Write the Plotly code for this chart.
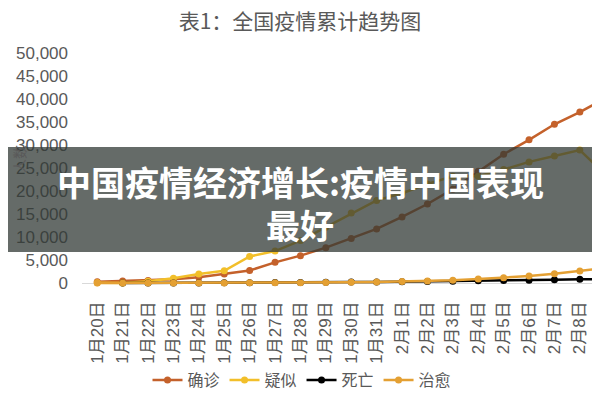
import plotly.graph_objects as go

dates = ["1月20日", "1月21日", "1月22日", "1月23日", "1月24日", "1月25日", "1月26日",
         "1月27日", "1月28日", "1月29日", "1月30日", "1月31日", "2月1日", "2月2日",
         "2月3日", "2月4日", "2月5日", "2月6日", "2月7日", "2月8日", "2月9日"]
confirmed = [291, 440, 571, 830, 1287, 1975, 2744, 4515, 5974, 7711, 9692, 11791,
             14380, 17205, 20438, 24324, 28018, 31161, 34546, 37198, 40171]
suspected = [54, 37, 393, 1072, 1965, 2684, 5794, 6973, 9239, 12167, 15238, 17988,
             19544, 21558, 23214, 23260, 24702, 26359, 27657, 28942, 23589]
deaths = [None, 9, 17, 25, 41, 56, 80, 106, 132, 170, 213, 259,
          304, 361, 425, 490, 563, 636, 722, 811, 908]
cured = [25, 25, 28, 34, 38, 49, 51, 60, 103, 124, 171, 243,
         328, 475, 632, 892, 1153, 1540, 2050, 2649, 3281]
y_ticks = [0, 5000, 10000, 15000, 20000, 25000, 30000, 35000, 40000, 45000, 50000]

series = [
    ("确诊", confirmed, "#C4612B"),
    ("疑似", suspected, "#F2BF2A"),
    ("死亡", deaths, "#000000"),
    ("治愈", cured, "#E4A033"),
]

# page body has an 8px margin: figure coordinates = window coordinates - 8
OFF = 8
W, H = 600, 400
L, T = 82 - OFF, 44 - OFF
PB = 290 - OFF            # plot bottom (figure px)
B = H - PB
R = 0
PW, PH = W - L - R, PB - T
px_per_cat = 25.4
x_right = -0.6 + PW / px_per_cat

font_fam = "Liberation Sans, Noto Sans CJK SC, sans-serif"
cjk = "Noto Sans CJK SC, sans-serif"
fig = go.Figure()
for name, vals, col in series:
    fig.add_trace(go.Scatter(
        x=dates, y=vals, name=name, mode="lines+markers",
        line=dict(color=col, width=2.5),
        marker=dict(color=col, size=7),
    ))

fig.update_layout(
    width=W, height=H,
    margin=dict(l=L, r=R, t=T, b=B),
    paper_bgcolor="white", plot_bgcolor="white",
    font=dict(family=font_fam, color="#595959"),
    title=dict(text="表1：全国疫情累计趋势图", x=(300 - OFF) / W, xref="container", xanchor="center",
               y=1 - (22 - OFF) / H, yref="container", yanchor="middle",
               font=dict(size=21, color="#595959", family=cjk)),
    showlegend=True,
    legend=dict(orientation="h", xref="container", x=(302 - OFF) / W, xanchor="center",
                yref="container", y=1 - (380 - OFF) / H, yanchor="middle",
                font=dict(size=16, color="#595959", family=cjk),
                itemwidth=30, tracegroupgap=0),
    xaxis=dict(type="category", range=[-0.6, x_right], showgrid=False, showline=False,
               zeroline=False, ticks="", tickangle=-90, automargin=False,
               ticklabelstandoff=7,
               tickfont=dict(size=17, color="#595959", family=font_fam)),
    yaxis=dict(range=[-1500, 52000], tickvals=y_ticks, tickformat=",d", showgrid=False,
               showline=False, zeroline=True, zerolinecolor="#d9d9d9", zerolinewidth=1,
               ticks="", ticklabelstandoff=13, automargin=False,
               tickfont=dict(size=17, color="#595959", family=font_fam)),
)

fig.add_annotation(text="人数", xref="paper", x=0, xshift=-(L + 1), yref="y", y=27000,
                   textangle=-90, showarrow=False,
                   font=dict(size=14, color="#595959", family=cjk))

# overlay band
cx = (300 - OFF - L) / PW
fig.add_shape(type="rect", xref="paper", yref="paper", x0=-0.2, x1=1.05,
              y0=(PB - (252 - OFF)) / PH, y1=(PB - (147 - OFF)) / PH,
              fillcolor="rgba(49,57,53,0.75)", line=dict(width=0), layer="above")
fig.add_annotation(text="中国疫情经济增长:疫情中国表现", xref="paper", x=cx,
                   yref="paper", y=(PB - (181 - OFF)) / PH, yanchor="middle", showarrow=False,
                   font=dict(size=34, color="white", family="Noto Sans CJK SC", weight="bold"))
fig.add_annotation(text="最好", xref="paper", x=cx,
                   yref="paper", y=(PB - (224 - OFF)) / PH, yanchor="middle", showarrow=False,
                   font=dict(size=34, color="white", family="Noto Sans CJK SC", weight="bold"))

fig.write_html("out.html")
